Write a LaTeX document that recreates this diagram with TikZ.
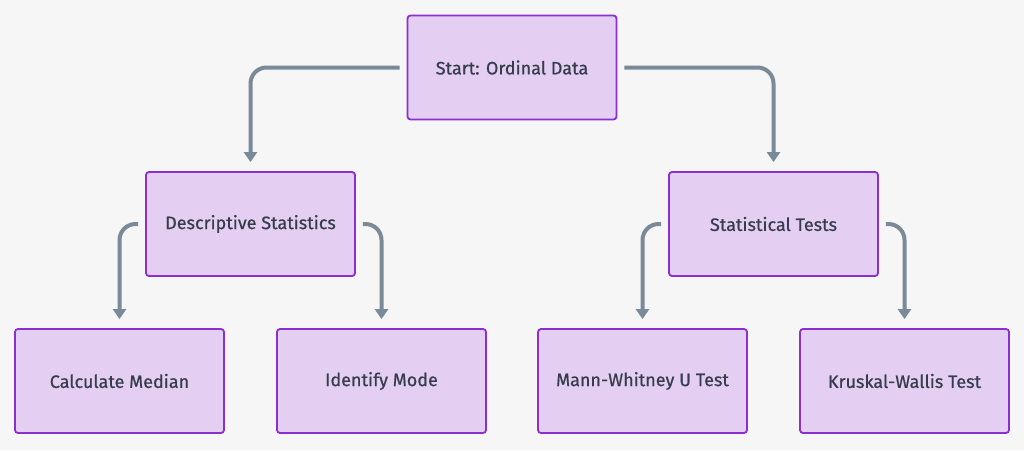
\documentclass[tikz,border=0pt]{standalone}
\usepackage{fontspec}
\setmainfont{Fira Sans}[FakeBold=0.6]
\usetikzlibrary{arrows.meta}
\definecolor{bgc}{HTML}{F6F6F6}
\definecolor{boxfill}{HTML}{E4CFF3}
\definecolor{boxdraw}{HTML}{8B2FD1}
\definecolor{linec}{HTML}{7B8A99}
\definecolor{textc}{HTML}{363C4C}
\tikzset{
  box/.style={draw=boxdraw, fill=boxfill, line width=1.8pt, rounded corners=3pt,
    minimum width=209pt, minimum height=104pt, inner sep=0pt,
    text=textc, font=\fontsize{18pt}{21pt}\selectfont},
  conn/.style={draw=linec, line width=4pt, rounded corners=16pt,
    -{Triangle[width=13pt,length=10pt]}}
}
\begin{document}
\begin{tikzpicture}[x=1pt,y=-1pt]
\fill[bgc] (0,0) rectangle (1024,450);
\useasboundingbox (0,0) rectangle (1024,450);
\node[box] (start) at (512,67.5) {Start: Ordinal Data};
\node[box] (desc) at (250.5,224) {Descriptive Statistics};
\node[box] (stat) at (773.5,224) {Statistical Tests};
\node[box] (med) at (119.5,381) {Calculate Median};
\node[box] (mode) at (381.5,381) {Identify Mode};
\node[box] (mann) at (642.5,381) {Mann-Whitney U Test};
\node[box] (krus) at (904.5,381) {Kruskal-Wallis Test};
\path[conn] ([xshift=-7pt]start.west) -| ([yshift=9pt]desc.north);
\path[conn] ([xshift=7pt]start.east) -| ([yshift=9pt]stat.north);
\path[conn] ([xshift=-7pt]desc.west) -| ([yshift=9pt]med.north);
\path[conn] ([xshift=7pt]desc.east) -| ([yshift=9pt]mode.north);
\path[conn] ([xshift=-7pt]stat.west) -| ([yshift=9pt]mann.north);
\path[conn] ([xshift=7pt]stat.east) -| ([yshift=9pt]krus.north);
\end{tikzpicture}
\end{document}
